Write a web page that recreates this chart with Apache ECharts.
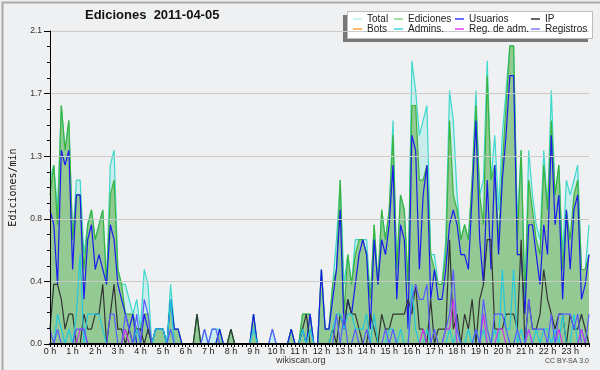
<!DOCTYPE html>
<html><head><meta charset="utf-8">
<script src="https://cdn.jsdelivr.net/npm/echarts@6/dist/echarts.min.js"></script>
<style>html,body{margin:0;padding:0;background:#eff0f1}#c{width:600px;height:370px}</style>
</head><body><div id="c"></div><script>
// 10-minute slots, values in edits per minute
var hourLabels = [];
for (var h = 0; h < 24; h++) { for (var m = 0; m < 60; m += 10) { hourLabels.push(h + ':' + (m < 10 ? '0' + m : m)); } }

var total = [
 1.1,1.2,0.9,1.6,1.3,1.5, 0.7,1.1,1.1,0.6,0.8,0.9, 0.7,0.8,0.9,0.4,1.2,1.3, 0.5,0.4,0.4,0.3,0.2,0.3,
 0.1,0.5,0.4,0.0,0.1,0.1, 0.1,0.0,0.4,0.1,0.1,0.0, 0,0,0,0.2,0,0.1, 0,0.1,0.1,0.1,0,0,
 0.1,0,0,0,0,0, 0.2,0,0,0,0,0.1, 0,0,0,0,0.1,0, 0,0.2,0.2,0.2,0,0,
 0.5,0.1,0.1,0.4,0.7,1.1, 0.4,0.6,0.4,0.7,0.7,0.7, 0.7,0.3,0.8,0.4,0.9,0.7, 0.9,1.5,0.5,1.0,0.9,0.4,
 1.9,1.7,1.4,1.5,1.6,0.6, 0.6,0.4,0.4,0.7,1.7,1.5, 1.0,0.7,0.8,0.7,1.1,1.7, 1.0,1.1,1.9,1.1,1.4,0.9,
 1.4,1.7,2.0,2.0,0.8,1.3, 0.3,1.3,1.0,0.8,0.7,1.3, 0.9,1.7,1.0,1.2,0.6,1.1, 1.0,1.1,1.2,0.5,0.5,0.8
];
var ediciones = [
 1.0,1.2,0.8,1.6,1.3,1.5, 0.7,1.0,1.0,0.5,0.8,0.9, 0.7,0.8,0.9,0.4,1.0,1.1, 0.5,0.4,0.2,0.2,0.2,0.1,
 0.1,0.2,0.2,0.0,0.1,0.1, 0.1,0.0,0.3,0.1,0.1,0.0, 0,0,0,0.2,0,0, 0,0,0,0.1,0,0,
 0.1,0,0,0,0,0, 0.2,0,0,0,0,0, 0,0,0,0,0.1,0, 0,0.2,0.2,0.2,0,0,
 0.5,0.1,0.1,0.4,0.5,1.1, 0.2,0.6,0.4,0.6,0.7,0.7, 0.6,0.3,0.8,0.4,0.9,0.7, 0.9,1.4,0.5,1.0,0.9,0.4,
 1.6,1.6,1.1,1.1,1.2,0.6, 0.5,0.4,0.4,0.6,1.5,1.0, 0.9,0.7,0.8,0.7,1.1,1.6, 1.0,0.8,1.8,1.1,1.2,0.7,
 1.2,1.6,2.0,2.0,0.7,1.3, 0.3,1.1,0.9,0.7,0.6,1.2, 0.9,1.5,1.0,1.2,0.5,0.9, 0.7,1.0,1.1,0.5,0.5,0.6
];
var usuarios = [
 0.9,0.8,0.4,1.3,1.2,1.3, 0.5,1.0,1.0,0.3,0.7,0.8, 0.5,0.6,0.5,0.4,0.8,0.7, 0.4,0.3,0.2,0.1,0.2,0.0,
 0.0,0.2,0.1,0.0,0.1,0.1, 0.1,0.0,0.3,0.1,0.1,0.0, 0,0,0,0,0,0, 0,0,0,0.1,0,0,
 0,0,0,0,0,0, 0.2,0,0,0,0,0, 0,0,0,0,0.1,0, 0,0.1,0.0,0.2,0,0,
 0.5,0.1,0.1,0.3,0.5,0.9, 0.1,0.3,0.2,0.4,0.6,0.7, 0.6,0.1,0.7,0.4,0.7,0.6, 0.8,1.2,0.3,0.8,0.7,0.1,
 1.4,1.3,0.5,1.0,1.2,0.3, 0.5,0.3,0.3,0.5,0.8,0.9, 0.8,0.6,0.6,0.5,1.0,1.5, 0.7,0.4,1.1,0.5,1.2,0.6,
 1.1,1.4,1.8,1.8,0.6,0.6, 0.2,0.8,0.8,0.6,0.4,0.8, 0.6,1.4,0.8,1.0,0.3,0.9, 0.5,0.9,1.0,0.3,0.4,0.6
];
var ip = [
 0.1,0.4,0.4,0.3,0.1,0.2, 0.2,0.0,0.0,0.2,0.1,0.1, 0.2,0.2,0.4,0.0,0.2,0.4, 0.1,0.1,0.0,0.1,0.0,0.1,
 0.1,0.0,0.1,0.0,0.0,0.0, 0,0,0,0,0,0, 0,0,0,0.2,0,0, 0,0,0,0,0,0,
 0.1,0,0,0,0,0, 0,0,0,0,0,0, 0,0,0,0,0,0, 0,0.1,0.2,0,0,0,
 0,0,0,0.1,0,0.2, 0.1,0.3,0.2,0.2,0.1,0.0, 0.0,0.2,0.1,0.0,0.2,0.1, 0.1,0.2,0.2,0.2,0.2,0.3,
 0.2,0.4,0.1,0.1,0.0,0.3, 0.0,0.1,0.1,0.1,0.7,0.1, 0.2,0.0,0.2,0.1,0.3,0.0, 0.3,0.4,0.7,0.7,0.1,0.1,
 0.1,0.2,0.2,0.2,0.1,0.7, 0.0,0.3,0.1,0.1,0.2,0.5, 0.3,0.2,0.1,0.2,0.2,0.0, 0.2,0.1,0.1,0.2,0.1,0.0
];
var bots = [
 0,0,0,0,0,0, 0,0,0,0,0,0, 0,0,0,0,0,0, 0,0,0,0,0,0, 0,0,0,0,0,0, 0,0,0,0,0,0,
 0,0,0,0,0,0, 0,0,0,0,0,0, 0,0,0,0,0,0, 0,0,0,0,0,0, 0,0,0,0,0,0, 0,0,0,0,0,0,
 0,0,0,0,0,0, 0,0,0,0,0,0, 0,0,0,0,0,0, 0,0,0,0,0,0, 0,0,0,0,0,0, 0,0,0,0,0,0,
 0,0,0,0,0,0, 0,0,0,0,0,0, 0,0,0,0,0,0, 0,0,0,0,0,0, 0,0,0,0,0,0, 0,0,0,0,0,0
];
var admins = [
 0,0,0.2,0.1,0,0.1, 0,0.2,0.6,0,0.2,0.2, 0.2,0.2,0.1,0,0,0, 0,0,0,0,0,0.1,
 0,0,0,0,0.1,0.1, 0.1,0,0.3,0,0,0, 0,0,0,0,0,0, 0,0,0,0,0,0,
 0,0,0,0,0,0, 0.1,0,0,0,0,0, 0,0,0,0,0,0, 0,0.1,0,0.1,0,0,
 0,0,0,0.1,0.2,0.2, 0.1,0.2,0.2,0.1,0.1,0.1, 0.2,0,0.2,0,0,0, 0.1,0.1,0,0.1,0,0,
 0.4,0.1,0,0,0.1,0, 0,0,0,0,0.1,0, 0.1,0,0,0.1,0,0.1, 0,0.1,0,0,0.1,0,
 0.5,0.1,0.1,0.5,0,0.1, 0,0.1,0,0.1,0,0.1, 0.1,0,0.1,0,0.2,0, 0,0.2,0,0.1,0,0
];
var regAdm = [
 0,0,0,0,0,0, 0,0,0.1,0.1,0,0, 0,0,0,0,0,0, 0,0,0.1,0,0,0,
 0,0,0,0,0,0, 0,0,0,0,0,0, 0,0,0,0,0,0, 0,0,0,0,0,0,
 0,0,0,0,0,0, 0,0,0,0,0,0, 0,0,0,0,0,0, 0,0,0,0,0,0,
 0,0,0,0,0,0, 0,0,0,0,0,0, 0,0,0,0,0,0, 0,0,0,0,0,0,
 0,0,0,0.1,0,0, 0,0,0,0.1,0.1,0.3, 0,0,0,0,0,0, 0,0.2,0,0,0,0.1,
 0.1,0,0,0,0,0, 0,0.1,0,0,0,0, 0,0,0,0.1,0,0, 0,0,0,0.1,0,0
];
var registros = [
 0.1,0,0.1,0,0,0, 0,0.1,0.1,0.1,0,0, 0,0,0,0,0.2,0.2, 0,0,0.2,0.1,0,0.2,
 0,0.3,0.2,0,0,0, 0,0,0.1,0,0,0, 0,0,0,0,0,0.1, 0,0.1,0.1,0,0,0,
 0,0,0,0,0,0, 0,0,0,0,0,0.1, 0,0,0,0,0,0, 0,0,0,0,0,0,
 0,0,0,0,0.2,0, 0.2,0,0,0.1,0,0, 0.1,0,0,0,0,0.1, 0,0.1,0,0,0,0,
 0.3,0.4,0.3,0.3,0.4,0, 0.1,0,0,0.1,0.2,0.5, 0.1,0,0,0,0,0.1, 0,0.3,0.1,0,0.2,0.2,
 0.2,0.1,0,0,0.1,0, 0,0.3,0.1,0.1,0.1,0.1, 0,0.2,0,0.2,0.2,0.2, 0.2,0.1,0.2,0,0,0.2
];

var seriesNames = ['Total','Ediciones','Usuarios','IP','Bots','Admins.','Reg. de adm.','Registros'];
var lineColors = ['#3ed8cc','#3cb43c','#1a1aee','#333333','#ff9922','#22c8dc','#cc33ee','#5a5aff'];
var legendColors = ['#b4efee','#86d486','#3b3bff','#333333','#ffa33a','#3fd3e2','#e040f0','#8080ff'];
var seriesData = [total, ediciones, usuarios, ip, bots, admins, regAdm, registros];

var chart = echarts.init(document.getElementById('c'), null, {renderer: 'canvas'});
var series = [
  {name: 'Total_area', type: 'line', data: total, symbol: 'none', z: 1, silent: true,
   lineStyle: {width: 0}, areaStyle: {color: '#c9ecec', opacity: 1}},
  {name: 'Ediciones_area', type: 'line', data: ediciones, symbol: 'none', z: 1, silent: true,
   lineStyle: {width: 0}, areaStyle: {color: '#93c993', opacity: 1}}
];
for (var s = 0; s < seriesNames.length; s++) {
  series.push({name: seriesNames[s], type: 'line', data: seriesData[s], symbol: 'none', z: 2,
    color: lineColors[s], lineStyle: {width: 1.2, color: lineColors[s]}});
}
function leg(left, names) {
  return {left: left, top: 14, orient: 'vertical', itemGap: 0, itemWidth: 9, itemHeight: 1.5,
    icon: 'rect', selectedMode: false, padding: 0, z: 20,
    textStyle: {fontSize: 10, lineHeight: 10, color: '#222', fontFamily: 'Liberation Sans'},
    data: names.map(function (n) { return {name: n, itemStyle: {color: legendColors[seriesNames.indexOf(n)]}}; })};
}
chart.setOption({
  backgroundColor: '#eff0f1',
  animation: false,
  title: {text: 'Ediciones  2011-04-05', left: 85, top: 9, padding: 0,
    textStyle: {fontSize: 13, fontWeight: 'bold', color: '#111', fontFamily: 'Liberation Sans'}},
  legend: [leg(353, ['Total','Bots']), leg(394, ['Ediciones','Admins.']), leg(455, ['Usuarios','Reg. de adm.']), leg(531, ['IP','Registros'])],
  grid: {left: 46, right: 11, top: 31, bottom: 26},
  xAxis: {type: 'category', data: hourLabels, boundaryGap: false, z: 5,
    axisLine: {lineStyle: {color: '#000', width: 2}},
    axisTick: {show: true, interval: 0, length: 3, lineStyle: {color: '#000', width: 1}},
    axisLabel: {interval: function (i) { return i % 6 === 0; }, margin: 3,
      formatter: function (v) { return v.split(':')[0] + ' h'; },
      fontSize: 9, color: '#222', fontFamily: 'Liberation Sans'},
    splitLine: {show: false}},
  yAxis: {type: 'value', min: 0, max: 2.1, interval: 0.42, z: 5,
    name: 'Ediciones/min', nameLocation: 'middle', nameGap: 32, nameRotate: 90,
    nameTextStyle: {fontSize: 10, color: '#111', fontFamily: 'DejaVu Sans Mono'},
    axisLine: {show: true, lineStyle: {color: '#000', width: 1}},
    axisTick: {show: true, length: 6, lineStyle: {color: '#000'}},
    minorTick: {show: true, splitNumber: 4, length: 3, lineStyle: {color: '#000'}},
    axisLabel: {formatter: function (v) { return v.toFixed(1); }, margin: 8, fontSize: 8.5, color: '#333', fontFamily: 'Liberation Sans'},
    splitLine: {show: true, lineStyle: {color: '#cacaca', width: 1}}},
  graphic: {z: 10, elements: [
    {type: 'rect', left: 0, top: 0, z: 100, silent: true, shape: {width: 600, height: 370},
     style: {fill: 'none', stroke: '#a9a9a9', lineWidth: 2}},
    {type: 'rect', left: 343, top: 15, z: 1, shape: {width: 245, height: 27}, style: {fill: '#777'}},
    {type: 'rect', left: 347, top: 11, z: 2, shape: {width: 245, height: 27}, style: {fill: '#fff', stroke: '#bbb', lineWidth: 1}},
    {type: 'text', left: 276, top: 356, style: {text: 'wikiscan.org', fontSize: 9, fill: '#333', fontFamily: 'Liberation Sans'}},
    {type: 'text', right: 11, top: 358, style: {text: 'CC BY-SA 3.0', fontSize: 7, fill: '#444', fontFamily: 'Liberation Sans'}}
  ]},
  series: series
});
</script></body></html>
